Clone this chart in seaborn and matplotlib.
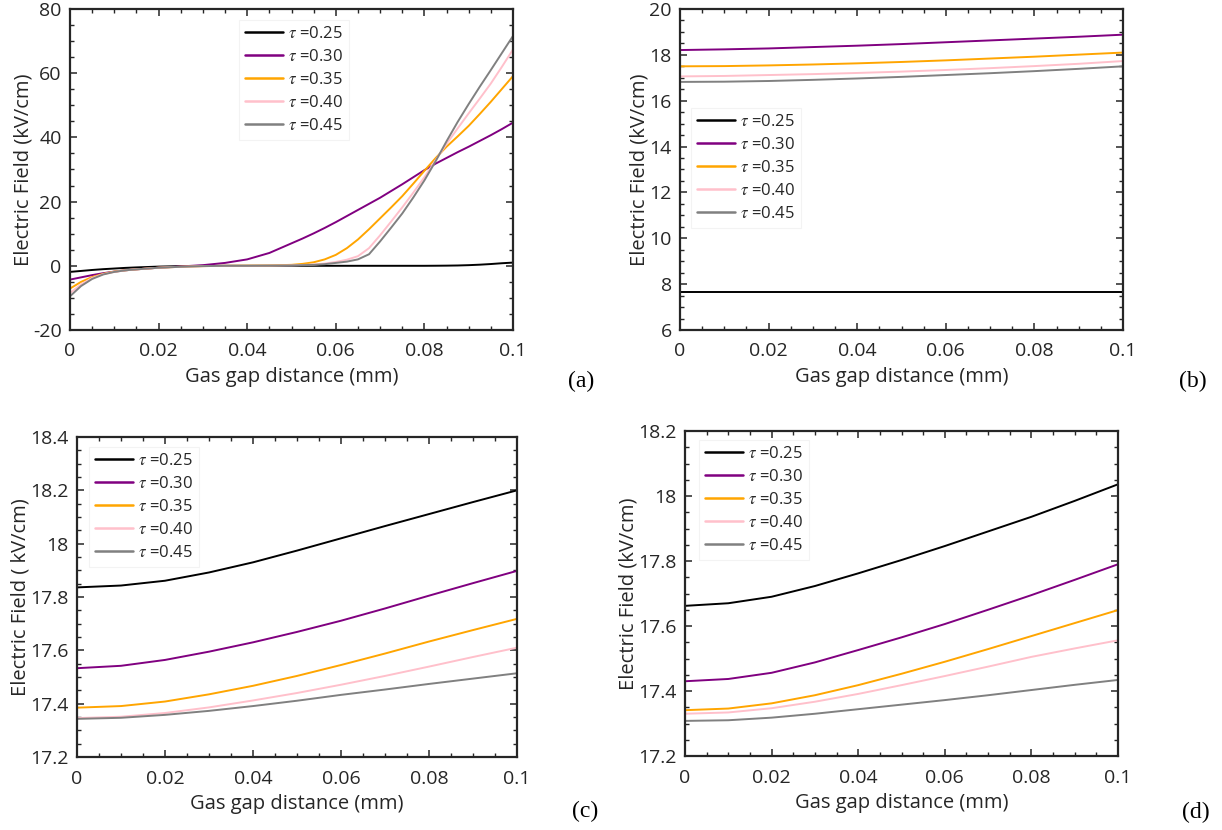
import numpy as np
import pandas as pd
import matplotlib
matplotlib.use("Agg")
import matplotlib.pyplot as plt
import seaborn as sns
from matplotlib.ticker import MultipleLocator, FixedLocator

# ---------------- data ----------------
taus = ["0.25", "0.30", "0.35", "0.40", "0.45"]
colors = ["#000000", "#800080", "#FFA500", "#FFC0CB", "#808080"]

# Panel (a)
xa = [0, 0.0025, 0.005, 0.0075, 0.01, 0.0125, 0.015, 0.02, 0.025, 0.03, 0.035, 0.04,
      0.045, 0.05, 0.0525, 0.055, 0.0575, 0.06, 0.0625, 0.065, 0.0675, 0.07, 0.0725,
      0.075, 0.0775, 0.08, 0.0825, 0.085, 0.0875, 0.09, 0.0925, 0.095, 0.0975, 0.1]
a_025 = [-1.9, -1.6, -1.3, -1.05, -0.85, -0.65, -0.5, -0.25, -0.1, -0.03, 0, 0,
         0, 0, 0, 0, 0, 0, 0, 0, 0, 0, 0,
         0, 0, 0, 0.02, 0.05, 0.1, 0.2, 0.35, 0.55, 0.8, 1.0]
a_030 = [-4.3, -3.6, -2.9, -2.3, -1.8, -1.4, -1.1, -0.6, -0.2, 0.2, 0.9, 2.0,
         4.0, 7.0, 8.5, 10.1, 11.8, 13.6, 15.5, 17.4, 19.3, 21.2, 23.3,
         25.4, 27.6, 29.8, 31.8, 33.6, 35.4, 37.1, 38.9, 40.7, 42.6, 44.6]
a_035 = [-7.1, -5.0, -3.5, -2.5, -1.8, -1.4, -1.1, -0.6, -0.3, -0.1, 0, 0.05,
         0.1, 0.3, 0.6, 1.1, 2.0, 3.4, 5.5, 8.2, 11.4, 14.8, 18.2,
         21.7, 25.6, 29.6, 33.5, 37.1, 40.3, 43.6, 47.3, 51.1, 55.1, 59.1]
a_040 = [-8.5, -5.8, -3.8, -2.6, -1.9, -1.4, -1.1, -0.6, -0.3, -0.1, 0, 0,
         0.05, 0.15, 0.25, 0.4, 0.7, 1.2, 1.9, 3.0, 5.5, 9.5, 13.8,
         18.2, 22.8, 27.6, 32.8, 38.0, 42.8, 47.5, 52.1, 56.8, 62.0, 67.4]
a_045 = [-9.5, -6.3, -4.1, -2.7, -1.9, -1.4, -1.1, -0.6, -0.3, -0.1, 0, 0,
         0.05, 0.1, 0.2, 0.3, 0.5, 0.9, 1.3, 2.0, 3.6, 7.6, 11.9,
         16.3, 21.3, 26.6, 32.5, 38.8, 44.8, 50.4, 55.8, 61.0, 66.3, 71.6]

# Panels (b), (c), (d)
xs = [0, 0.01, 0.02, 0.03, 0.04, 0.05, 0.06, 0.07, 0.08, 0.09, 0.1]
b_025 = [7.64, 7.64, 7.64, 7.64, 7.64, 7.64, 7.64, 7.64, 7.64, 7.64, 7.64]
b_030 = [18.21, 18.24, 18.28, 18.34, 18.40, 18.47, 18.55, 18.63, 18.71, 18.79, 18.88]
b_035 = [17.50, 17.51, 17.54, 17.58, 17.63, 17.69, 17.76, 17.84, 17.92, 18.01, 18.10]
b_040 = [17.06, 17.08, 17.12, 17.16, 17.21, 17.27, 17.34, 17.42, 17.51, 17.61, 17.73]
b_045 = [16.82, 16.83, 16.86, 16.91, 16.97, 17.04, 17.12, 17.20, 17.29, 17.39, 17.50]

c_025 = [17.836, 17.843, 17.861, 17.892, 17.930, 17.974, 18.020, 18.066, 18.111, 18.156, 18.200]
c_030 = [17.533, 17.542, 17.564, 17.595, 17.630, 17.669, 17.711, 17.757, 17.805, 17.852, 17.898]
c_035 = [17.385, 17.391, 17.408, 17.435, 17.467, 17.504, 17.545, 17.588, 17.633, 17.676, 17.718]
c_040 = [17.346, 17.351, 17.365, 17.386, 17.412, 17.440, 17.471, 17.504, 17.539, 17.575, 17.610]
c_045 = [17.343, 17.347, 17.358, 17.373, 17.391, 17.411, 17.433, 17.453, 17.474, 17.494, 17.514]

d_025 = [17.662, 17.670, 17.690, 17.723, 17.762, 17.803, 17.846, 17.891, 17.936, 17.985, 18.036]
d_030 = [17.430, 17.437, 17.456, 17.488, 17.526, 17.565, 17.606, 17.650, 17.695, 17.742, 17.790]
d_035 = [17.341, 17.346, 17.362, 17.387, 17.418, 17.453, 17.490, 17.529, 17.569, 17.609, 17.649]
d_040 = [17.330, 17.334, 17.347, 17.367, 17.391, 17.418, 17.446, 17.475, 17.505, 17.531, 17.556]
d_045 = [17.308, 17.310, 17.318, 17.330, 17.344, 17.358, 17.372, 17.387, 17.403, 17.419, 17.434]

xlabel = "Gas gap distance (mm)"
ylabels = ["Electric Field (kV/cm)", "Electric Field (kV/cm)",
           "Electric Field ( kV/cm)", "Electric Field (kV/cm)"]
panel_labels = ["(a)", "(b)", "(c)", "(d)"]

# ---------------- style ----------------
sns.set_theme(style="ticks")
plt.rcParams["font.family"] = ["Open Sans", "DejaVu Sans"]
plt.rcParams["mathtext.fontset"] = "stix"
AX_COL = "#262626"

def long_df(x, series):
    rows = []
    for t, ys in zip(taus, series):
        for xv, yv in zip(x, ys):
            rows.append({"x": xv, "y": yv, "tau": r"$\tau$ =" + t})
    return pd.DataFrame(rows)

panels = [
    dict(x=xa, s=[a_025, a_030, a_035, a_040, a_045], ylim=(-20, 80), major=20, minor=5,
         rect=[70, 9, 513, 330], leg=(0.381, 0.966)),
    dict(x=xs, s=[b_025, b_030, b_035, b_040, b_045], ylim=(6, 20), major=2, minor=0.5,
         rect=[680, 9, 1123, 330], leg=(0.025, 0.692)),
    dict(x=xs, s=[c_025, c_030, c_035, c_040, c_045], ylim=(17.2, 18.4), major=0.2, minor=0.05,
         rect=[77, 437, 517, 757], leg=(0.027, 0.969)),
    dict(x=xs, s=[d_025, d_030, d_035, d_040, d_045], ylim=(17.2, 18.2), major=0.2, minor=0.05,
         rect=[685, 431, 1118, 756], leg=(0.032, 0.972)),
]

W, H = 1222, 830
fig = plt.figure(figsize=(W / 100, H / 100), dpi=100)
fig.patch.set_facecolor("white")

palette = {r"$\tau$ =" + t: c for t, c in zip(taus, colors)}

for i, p in enumerate(panels):
    l, t, r, b = p["rect"]
    ax = fig.add_axes([l / W, (H - b) / H, (r - l) / W, (b - t) / H])
    df = long_df(p["x"], p["s"])
    sns.lineplot(data=df, x="x", y="y", hue="tau", palette=palette, ax=ax,
                 linewidth=1.4, sort=False, legend=True)
    ax.set_xlim(0, 0.1)
    ax.set_ylim(*p["ylim"])
    ax.xaxis.set_major_locator(FixedLocator([0, 0.02, 0.04, 0.06, 0.08, 0.1]))
    ax.set_xticklabels(["0", "0.02", "0.04", "0.06", "0.08", "0.1"])
    ax.xaxis.set_minor_locator(MultipleLocator(0.005))
    yt = np.arange(p["ylim"][0], p["ylim"][1] + 1e-9, p["major"])
    ax.set_yticks(yt)
    ax.set_yticklabels([("%g" % round(v, 2)) for v in yt])
    ax.yaxis.set_minor_locator(MultipleLocator(p["minor"]))
    ax.tick_params(which="both", direction="in", top=True, right=True,
                   color=AX_COL, labelcolor="#262626", labelsize=14)
    ax.tick_params(axis="x", which="both", pad=9)
    ax.tick_params(axis="y", which="both", pad=6)
    ax.tick_params(which="major", length=5, width=1.1)
    ax.tick_params(which="minor", length=3, width=1.0)
    for sp in ax.spines.values():
        sp.set_color(AX_COL)
        sp.set_linewidth(1.6)
        sp.set_visible(True)
    ax.set_xlabel(xlabel, fontsize=14.5, color="#262626", labelpad=5)
    ax.set_ylabel(ylabels[i], fontsize=14.5, color="#262626", labelpad=-0.5)
    ax.grid(False)
    leg = ax.legend(loc="upper left", bbox_to_anchor=p["leg"], borderaxespad=0,
                    fontsize=12, frameon=True, fancybox=False, handlelength=2.3,
                    handletextpad=0.3, labelspacing=0.42, borderpad=0.35,
                    edgecolor="#f0f0f0", title=None)
    leg.get_frame().set_linewidth(0.8)
    for h in leg.get_lines():
        h.set_linewidth(1.8)

label_pos = [(581, 381), (1193, 381), (585, 811), (1196, 812)]
for (px, py), lab in zip(label_pos, panel_labels):
    fig.text(px / W, 1 - py / H, lab, ha="center", va="center",
             fontsize=17, family="Liberation Serif", color="black")

fig.savefig("out.png", dpi=100, facecolor="white")
